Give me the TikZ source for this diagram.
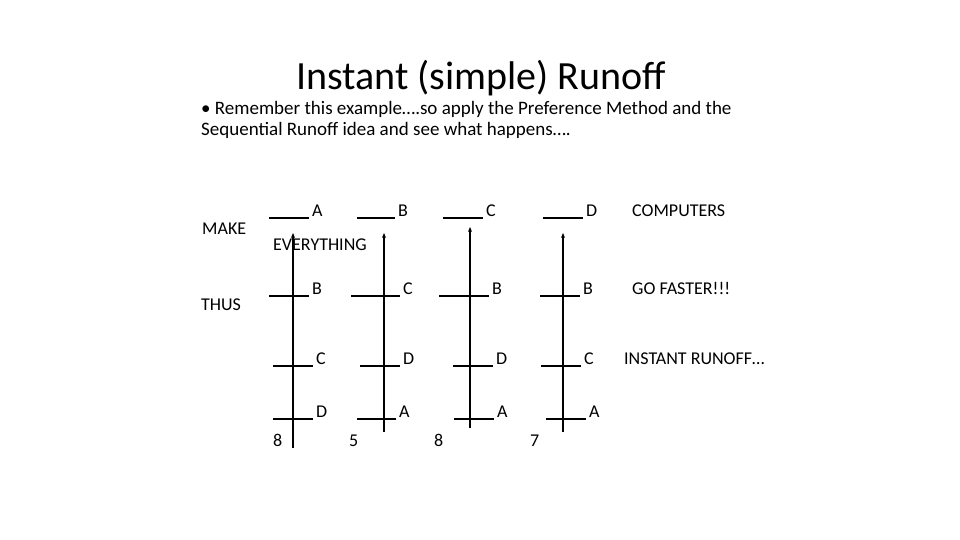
\documentclass[tikz,border=0pt]{standalone}
\usepackage{fontspec}
\setmainfont{Carlito}
\usetikzlibrary{arrows.meta}
\tikzstyle{lbl} = [anchor=base west, inner sep=0pt, font=\fontsize{18}{18}\selectfont]
\tikzstyle{blank} = [line width=1.3pt]
\tikzstyle{stem} = [line width=1.6pt, -{Stealth[length=5pt,width=4pt]}]

\begin{document}
\begin{tikzpicture}[x=1pt,y=-1pt]
\useasboundingbox (0,0) rectangle (960,540);

% Title and bullet
\node[font=\fontsize{40}{40}\selectfont, inner sep=0pt] (title) at (481,78) {Instant (simple) Runoff};
\node[anchor=north west, align=left, inner sep=0pt, font=\fontsize{19}{21}\selectfont] (txt) at (201,101)
  {\textbullet\ Remember this example\ldots.so apply the Preference Method and the\\Sequential Runoff idea and see what happens\ldots.};

% Row labels
\node[lbl] (make) at (202,234) {MAKE};
\node[lbl] (thus) at (201,310) {THUS};
\node[lbl] (comp) at (632,216) {COMPUTERS};
\node[lbl] (fast) at (632,294) {GO FASTER!!!};
\node[lbl] (inst) at (624,364) {INSTANT RUNOFF\ldots};
\node[lbl] (every) at (273,250) {EVERYTHING};

% Columns: x of stem, top, bottom, count x, then rows (left, right, letter)
\foreach \n/\sx/\st/\sb/\cx/\cnt in {
    1/293/233/448/273/8,
    2/384/233/432/349/5,
    3/470/227/428/434/8,
    4/563/233/432/530/7}{
  \coordinate (bot\n) at (\sx,\sb);
  \coordinate (top\n) at (\sx,\st);
  \draw[stem] (bot\n) -- (top\n);
  \node[lbl] (cnt\n) at (\cx,446) {\cnt};
}

% Blanks with letters
\foreach \n/\x/\y/\w/\c in {
    a1/269/218/40/A, b1/269/296/40/B, c1/273/366/40/C, d1/273/419/40/D,
    a2/357/218/38/B, b2/351/296/49/C, c2/360/366/40/D, d2/357/419/39/A,
    a3/443/218/40/C, b3/439/296/50/B, c3/453/366/40/D, d3/454/419/40/A,
    a4/543/218/40/D, b4/540/296/40/B, c4/541/366/40/C, d4/546/419/40/A}{
  \coordinate (l\n) at (\x,\y);
  \coordinate (r\n) at ({\x+\w},\y);
  \draw[blank] (l\n) -- (r\n);
  \node[lbl] (t\n) at ({\x+\w+3},{\y-2}) {\c};
}
\end{tikzpicture}
\end{document}
